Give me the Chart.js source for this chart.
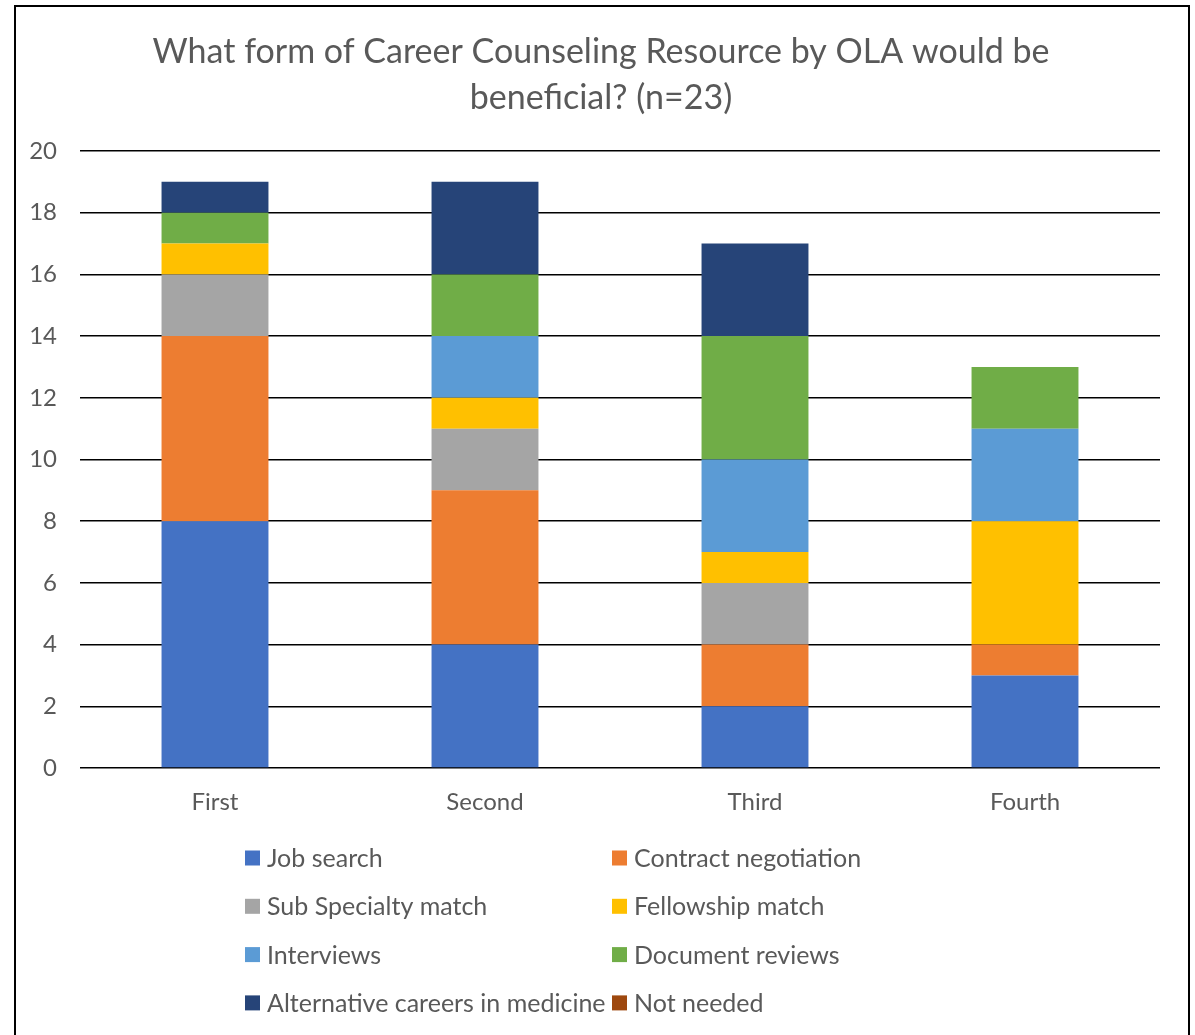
<!DOCTYPE html>
<html>
<head>
<meta charset="utf-8">
<script src="https://cdn.jsdelivr.net/npm/chart.js@4.4.1/dist/chart.umd.min.js"></script>
<style>
  html, body { margin: 0; padding: 0; background: #ffffff; }
  #wrap { position: relative; width: 1195px; height: 1035px; }
</style>
</head>
<body>
<div id="wrap"><canvas id="c" width="1195" height="1035"></canvas></div>
<script>
const categories = ["First", "Second", "Third", "Fourth"];
const seriesNames = ["Job search", "Contract negotiation", "Sub Specialty match", "Fellowship match", "Interviews", "Document reviews", "Alternative careers in medicine", "Not needed"];
const jobSearch = [8, 4, 2, 3];
const contractNegotiation = [6, 5, 2, 1];
const subSpecialtyMatch = [2, 2, 2, 0];
const fellowshipMatch = [1, 1, 1, 4];
const interviews = [0, 2, 3, 3];
const documentReviews = [1, 2, 4, 2];
const alternativeCareers = [1, 3, 3, 0];
const notNeeded = [0, 0, 0, 0];
const seriesColors = ["#4472C4", "#ED7D31", "#A5A5A5", "#FFC000", "#5B9BD5", "#70AD47", "#264478", "#9E480E"];
const titleLines = ["What form of Career Counseling Resource by OLA would be", "beneficial? (n=23)"];
const yTicks = { min: 0, max: 20, step: 2 };

const seriesValues = [jobSearch, contractNegotiation, subSpecialtyMatch, fellowshipMatch, interviews, documentReviews, alternativeCareers, notNeeded];
const FONT = "Lato, 'Open Sans', sans-serif";
const TXT = "#595959";

const framePlugin = {
  id: 'frame',
  beforeDraw(chart) {
    const ctx = chart.ctx;
    ctx.save();
    ctx.fillStyle = '#ffffff';
    ctx.fillRect(0, 0, chart.width, chart.height);
    ctx.strokeStyle = '#000000';
    ctx.lineWidth = 2;
    ctx.strokeRect(15, 6, 1174, 1100);
    ctx.restore();
  }
};

const titlePlugin = {
  id: 'centeredTitle',
  afterDraw(chart) {
    const ctx = chart.ctx;
    ctx.save();
    ctx.font = "34px " + FONT;
    ctx.fillStyle = TXT;
    ctx.textAlign = 'center';
    ctx.textBaseline = 'middle';
    titleLines.forEach((line, i) => ctx.fillText(line, 601, 52 + i * 46));
    ctx.restore();
  }
};

const legendPlugin = {
  id: 'gridLegend',
  afterDraw(chart) {
    const ctx = chart.ctx;
    ctx.save();
    ctx.font = "25px " + FONT;
    ctx.textBaseline = 'middle';
    ctx.textAlign = 'left';
    const colX = [245, 612];
    const rowY0 = 858, rowStep = 48.3, box = 15;
    chart.data.datasets.forEach((ds, i) => {
      const col = i % 2, row = Math.floor(i / 2);
      const x = colX[col], y = rowY0 + row * rowStep;
      ctx.fillStyle = ds.backgroundColor;
      ctx.fillRect(x, y - box / 2, box, box);
      ctx.fillStyle = TXT;
      ctx.fillText(ds.label, x + 22, y + 1);
    });
    ctx.restore();
  }
};

new Chart(document.getElementById('c'), {
  type: 'bar',
  data: {
    labels: categories,
    datasets: seriesNames.map((name, i) => ({
      label: name,
      data: seriesValues[i],
      backgroundColor: seriesColors[i],
      borderWidth: 0,
      barPercentage: 0.396,
      categoryPercentage: 1.0
    }))
  },
  options: {
    responsive: false,
    animation: false,
    devicePixelRatio: 1,
    layout: { padding: { left: 20, right: 35, top: 151, bottom: 0 } },
    plugins: {
      legend: { display: false },
      tooltip: { enabled: false },
      title: { display: false }
    },
    scales: {
      x: {
        stacked: true,
        grid: { display: false, drawTicks: false },
        border: { display: false },
        ticks: { color: TXT, font: { family: FONT, size: 24 }, padding: 20 },
        afterFit(scale) { scale.height = 267; }
      },
      y: {
        stacked: true,
        min: yTicks.min,
        max: yTicks.max,
        ticks: { stepSize: yTicks.step, color: TXT, font: { family: FONT, size: 24 }, padding: 23 },
        grid: { color: '#000000', lineWidth: 1.5, drawTicks: false },
        border: { display: false },
        afterFit(scale) { scale.width = 60; }
      }
    }
  },
  plugins: [framePlugin, titlePlugin, legendPlugin]
});
</script>
</body>
</html>
